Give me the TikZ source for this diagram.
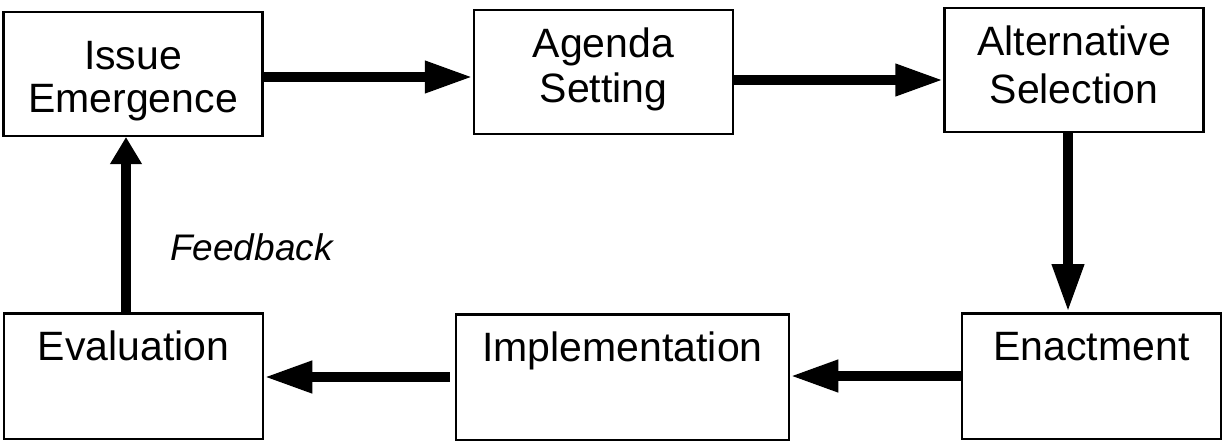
\documentclass[tikz,border=0pt]{standalone}
\usepackage{fontspec}
\setmainfont{Liberation Sans}
\usetikzlibrary{arrows.meta}

\begin{document}
\begin{tikzpicture}[x=1pt,y=-1pt,
	stage/.style={draw,rectangle,line width=2.5pt,inner sep=0pt,text width=259pt,align=center,
		text height=47pt,text depth=76.5pt,font=\fontsize{41}{45}\selectfont},
	flow/.style={-{Triangle[length=48pt,width=30pt]},line width=10pt}]
	\useasboundingbox (0,0) rectangle (1225,441);
	% top row
	\node[stage,text height=57.75pt,text depth=65.75pt,font=\fontsize{41}{43}\selectfont] (ie) at (133,74) {Issue\\Emergence};
	\node[stage] (as) at (603.5,72) {Agenda\\Setting};
	\node[stage,font=\fontsize{41}{48}\selectfont] (al) at (1074,70) {Alternative\\Selection};
	% bottom row
	\node[stage,text depth=78.5pt] (ev) at (133.5,376) {Evaluation};
	\node[stage,text depth=78.5pt,text width=333pt] (im) at (622.5,377) {Implementation};
	\node[stage,text depth=78.5pt] (en) at (1091.5,376) {Enactment};
	\node[anchor=base west,inner sep=0pt,font=\itshape\fontsize{37}{40}\selectfont] (fb) at (170,260) {Feedback};
	% connectors
	\draw[flow] ([yshift=-3pt]ie.east) -- ([yshift=-5pt]as.west);
	\draw[flow] ([yshift=-8pt]as.east) -- ([yshift=-10pt]al.west);
	\draw[flow] ([xshift=-6pt]al.south) -- ([xshift=-23.5pt]en.north);
	\draw[flow] (en.west) -- ([yshift=1pt]im.east);
	\draw[flow,shorten <=5pt] (im.west) -- ([yshift=-1pt]ev.east);
	\draw[-{Triangle[length=27pt,width=30pt]},line width=10pt] ([xshift=-7.5pt]ev.north) -- ([xshift=-7pt]ie.south);
\end{tikzpicture}
\end{document}
